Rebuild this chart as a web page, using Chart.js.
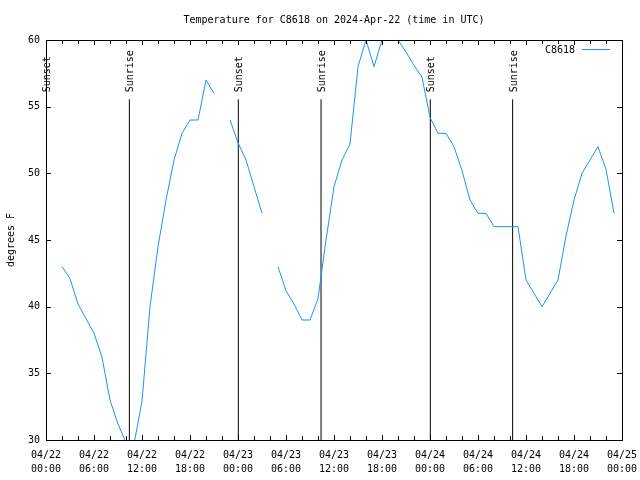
<!DOCTYPE html>
<html>
<head>
<meta charset="utf-8">
<script src="https://cdn.jsdelivr.net/npm/chart.js@4.4.1/dist/chart.umd.min.js"></script>
<style>
html,body{margin:0;padding:0;background:#fff;}
#wrap{width:640px;height:480px;}
</style>
</head>
<body>
<div id="wrap"><canvas id="c" width="640" height="480"></canvas></div>
<script>
// ---- data (hours since 04/22 00:00 UTC) ----
const hours = [2,3,4,5,6,7,8,9,10,11,12,13,14,15,16,17,18,19,20,21,22,
  23,24,25,26,27,28,
  29,30,31,32,33,34,35,36,37,38,39,40,41,42,43,44,45,46,47,48,49,50,
  51,52,53,54,55,56,57,58,59,60,61,62,63,64,65,66,67,68,69,70,71];
const temps = [43,42.1,40.2,39.1,38,36.2,33,31.2,29.8,29.7,32.9,40,44.5,48,51,53,54,54,57,56,null,
  54,52.3,51,49,47,null,
  43,41.2,40.2,39,39,40.6,45,49,51,52.2,58,60,58,60,61,60,59.1,58.1,57.2,54.2,53,53,
  52,50.2,48,47,47,46,46,46,46,42,41,40,41,42,45.3,48,50,51,52,50.3,47];
const seriesName = "C8618";
const sunTimes = [0.02, 10.42, 24.04, 34.38, 48.04, 58.33];
const sunLabels = ["Sunset","Sunrise","Sunset","Sunrise","Sunset","Sunrise"];
const sunLineTop = 55.55;
const xTickLabels = [["04/22","00:00"],["04/22","06:00"],["04/22","12:00"],["04/22","18:00"],
  ["04/23","00:00"],["04/23","06:00"],["04/23","12:00"],["04/23","18:00"],
  ["04/24","00:00"],["04/24","06:00"],["04/24","12:00"],["04/24","18:00"],["04/25","00:00"]];
const yTickValues = [30,35,40,45,50,55,60];
const titleText = "Temperature for C8618 on 2024-Apr-22 (time in UTC)";
const yTitle = "degrees F";

const FONT = "'DejaVu Sans Mono', monospace";
Chart.defaults.font.family = FONT;
Chart.defaults.font.size = 10;
Chart.defaults.color = '#000';

const datasets = [{
  label: seriesName,
  data: hours.map((h,i)=>({x:h, y:temps[i]})),
  borderColor: '#1e90ff',
  borderWidth: 1,
  pointRadius: 0,
  tension: 0,
  spanGaps: false,
  fill: false
}];
sunTimes.forEach((t,i)=>{
  datasets.push({
    label: sunLabels[i],
    data: [{x:t,y:30},{x:t,y:sunLineTop}],
    borderColor: '#000',
    borderWidth: 1,
    pointRadius: 0,
    fill: false
  });
});

const decor = {
  id: 'decor',
  afterDatasetsDraw(chart) {
    const ctx = chart.ctx;
    const a = chart.chartArea;
    const xs = chart.scales.x, ys = chart.scales.y;
    ctx.save();
    ctx.strokeStyle = '#000';
    ctx.lineWidth = 1;
    // frame
    ctx.strokeRect(Math.round(a.left)+0.5, Math.round(a.top)+0.5,
      Math.round(a.right)-Math.round(a.left), Math.round(a.bottom)-Math.round(a.top));
    // x ticks (inward) major every 6h, minor every 2h
    ctx.beginPath();
    for (let h = 0; h <= 72; h += 2) {
      const len = (h % 6 === 0) ? 5 : 4;
      const px = Math.round(xs.getPixelForValue(h)) + 0.5;
      ctx.moveTo(px, a.bottom); ctx.lineTo(px, a.bottom - len);
      ctx.moveTo(px, a.top); ctx.lineTo(px, a.top + len);
    }
    yTickValues.forEach(v=>{
      const py = Math.round(ys.getPixelForValue(v)) + 0.5;
      ctx.moveTo(a.left, py); ctx.lineTo(a.left + 5, py);
      ctx.moveTo(a.right, py); ctx.lineTo(a.right - 5, py);
    });
    ctx.stroke();
    // sun labels
    ctx.fillStyle = '#000';
    ctx.font = '10px ' + FONT;
    const topPx = ys.getPixelForValue(sunLineTop);
    sunTimes.forEach((t,i)=>{
      const px = xs.getPixelForValue(t);
      ctx.save();
      ctx.translate(px + 1.5, topPx - 7);
      ctx.rotate(-Math.PI/2);
      ctx.textAlign = 'left';
      ctx.textBaseline = 'middle';
      ctx.fillText(sunLabels[i], 0, 0);
      ctx.restore();
    });
    // legend (gnuplot style: text then line sample)
    ctx.textAlign = 'right';
    ctx.textBaseline = 'middle';
    ctx.fillText(seriesName, a.right - 47, a.top + 10);
    ctx.strokeStyle = '#1e90ff';
    ctx.beginPath();
    ctx.moveTo(a.right - 40, a.top + 9.5);
    ctx.lineTo(a.right - 12, a.top + 9.5);
    ctx.stroke();
    ctx.restore();
  }
};

new Chart(document.getElementById('c'), {
  type: 'line',
  data: { datasets },
  options: {
    responsive: false,
    animation: false,
    devicePixelRatio: 1,
    layout: { padding: { left: 0, right: 18, top: 0, bottom: 0 } },
    plugins: {
      legend: { display: false },
      tooltip: { enabled: false },
      title: {
        display: true,
        text: titleText,
        fullSize: false,
        font: { size: 10, weight: 'normal', family: FONT },
        color: '#000',
        padding: { top: 14, bottom: 14 }
      }
    },
    scales: {
      x: {
        type: 'linear',
        min: 0, max: 72,
        grid: { display: false, drawTicks: false },
        border: { display: false },
        afterBuildTicks: (s) => { s.ticks = xTickLabels.map((l,i)=>({value: i*6})); },
        ticks: {
          autoSkip: false,
          maxRotation: 0,
          padding: 8,
          font: { size: 10, family: FONT, lineHeight: 1.4 },
          callback: (v, i) => xTickLabels[i]
        },
        afterFit: (s) => { s.height = 40; s.paddingLeft = 0; s.paddingRight = 0; }
      },
      y: {
        type: 'linear',
        min: 30, max: 60,
        grid: { display: false, drawTicks: false },
        border: { display: false },
        afterBuildTicks: (s) => { s.ticks = yTickValues.map(v=>({value:v})); },
        ticks: { padding: 6, font: { size: 10, family: FONT } },
        title: { display: true, text: yTitle, font: { size: 10, family: FONT }, padding: { top: 5, bottom: 0 } },
        afterFit: (s) => { s.width = 46; s.paddingTop = 0; s.paddingBottom = 0; }
      }
    }
  },
  plugins: [decor]
});
</script>
</body>
</html>
